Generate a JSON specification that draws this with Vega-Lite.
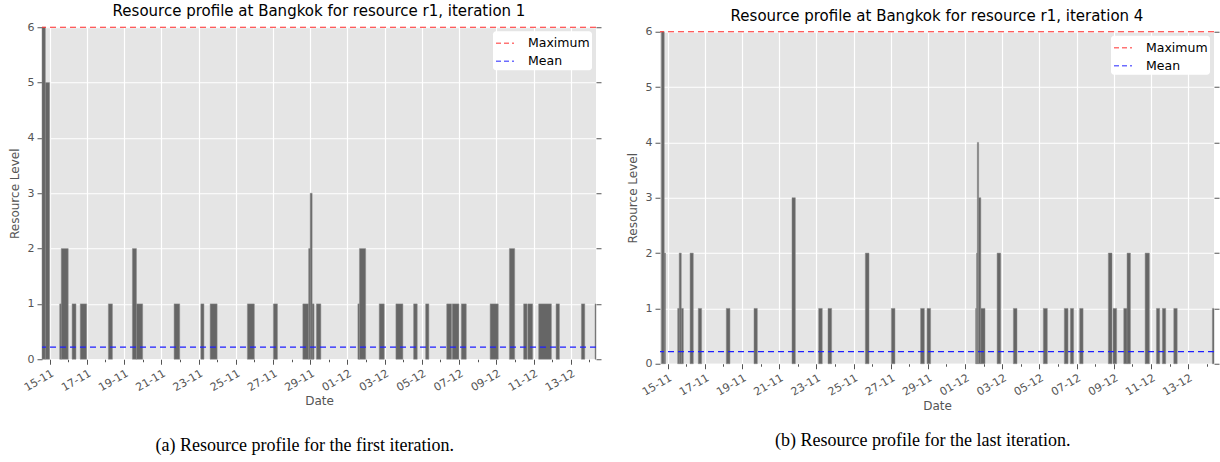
{
  "$schema": "https://vega.github.io/schema/vega-lite/v6.json",
  "background": "white",
  "padding": {"left": 8, "top": 4, "right": 2, "bottom": 2},
  "config": {
    "font": "DejaVu Sans",
    "view": {"fill": "#E5E5E5", "stroke": null},
    "axis": {
      "domain": false,
      "gridColor": "white",
      "gridWidth": 1.2,
      "tickColor": "#555555",
      "labelColor": "#555555",
      "titleColor": "#555555",
      "labelFont": "DejaVu Sans",
      "titleFont": "DejaVu Sans",
      "labelFontSize": 11,
      "titleFontSize": 12,
      "titleFontWeight": "normal",
      "tickSize": 5
    },
    "title": {"font": "DejaVu Sans", "fontSize": 15, "fontWeight": "normal", "color": "black"},
    "legend": {
      "orient": "top-right",
      "offset": 4,
      "fillColor": "white",
      "cornerRadius": 3,
      "padding": 2,
      "symbolType": "stroke",
      "symbolDash": [5, 3],
      "symbolStrokeWidth": 1.3,
      "symbolSize": 324,
      "symbolOpacity": 0.65,
      "labelFontSize": 12.5,
      "labelColor": "black",
      "labelFont": "DejaVu Sans",
      "labelOffset": 13,
      "rowPadding": 1
    },
    "concat": {"spacing": 24}
  },
  "datasets": {
    "iter1": [
      {"start": "2016-11-14T14:12", "end": "2016-11-14T18:30", "level": 6},
      {"start": "2016-11-14T18:30", "end": "2016-11-15T00:00", "level": 5},
      {"start": "2016-11-15T13:00", "end": "2016-11-15T15:00", "level": 1},
      {"start": "2016-11-15T15:00", "end": "2016-11-16T00:00", "level": 2},
      {"start": "2016-11-16T05:00", "end": "2016-11-16T10:00", "level": 1},
      {"start": "2016-11-16T15:30", "end": "2016-11-16T23:45", "level": 1},
      {"start": "2016-11-18T03:45", "end": "2016-11-18T09:00", "level": 1},
      {"start": "2016-11-19T10:45", "end": "2016-11-19T16:00", "level": 2},
      {"start": "2016-11-19T16:00", "end": "2016-11-20T00:00", "level": 1},
      {"start": "2016-11-21T16:30", "end": "2016-11-21T23:45", "level": 1},
      {"start": "2016-11-23T03:00", "end": "2016-11-23T07:00", "level": 1},
      {"start": "2016-11-23T15:00", "end": "2016-11-24T00:00", "level": 1},
      {"start": "2016-11-25T15:00", "end": "2016-11-26T00:00", "level": 1},
      {"start": "2016-11-27T00:30", "end": "2016-11-27T05:45", "level": 1},
      {"start": "2016-11-28T14:30", "end": "2016-11-28T22:00", "level": 1},
      {"start": "2016-11-28T22:00", "end": "2016-11-29T00:00", "level": 2},
      {"start": "2016-11-29T00:00", "end": "2016-11-29T02:30", "level": 3},
      {"start": "2016-11-29T02:30", "end": "2016-11-29T05:00", "level": 1},
      {"start": "2016-11-29T08:00", "end": "2016-11-29T13:45", "level": 1},
      {"start": "2016-12-01T13:30", "end": "2016-12-01T15:30", "level": 1},
      {"start": "2016-12-01T15:30", "end": "2016-12-01T23:30", "level": 2},
      {"start": "2016-12-02T17:00", "end": "2016-12-02T23:30", "level": 1},
      {"start": "2016-12-03T14:30", "end": "2016-12-03T23:30", "level": 1},
      {"start": "2016-12-04T13:20", "end": "2016-12-04T18:00", "level": 1},
      {"start": "2016-12-05T04:50", "end": "2016-12-05T09:00", "level": 1},
      {"start": "2016-12-06T08:00", "end": "2016-12-06T14:20", "level": 1},
      {"start": "2016-12-06T15:10", "end": "2016-12-06T23:45", "level": 1},
      {"start": "2016-12-07T02:50", "end": "2016-12-07T09:15", "level": 1},
      {"start": "2016-12-08T16:00", "end": "2016-12-09T02:30", "level": 1},
      {"start": "2016-12-09T16:50", "end": "2016-12-09T23:40", "level": 2},
      {"start": "2016-12-10T11:10", "end": "2016-12-10T15:30", "level": 1},
      {"start": "2016-12-10T16:25", "end": "2016-12-10T22:50", "level": 1},
      {"start": "2016-12-11T06:35", "end": "2016-12-11T23:00", "level": 1},
      {"start": "2016-12-12T05:00", "end": "2016-12-12T09:20", "level": 1},
      {"start": "2016-12-13T13:40", "end": "2016-12-13T18:00", "level": 1},
      {"start": "2016-12-14T07:15", "end": "2016-12-14T08:30", "level": 1}
    ],
    "iter4": [
      {"start": "2016-11-14T16:00", "end": "2016-11-14T19:40", "level": 6},
      {"start": "2016-11-14T19:40", "end": "2016-11-14T21:20", "level": 2},
      {"start": "2016-11-15T13:00", "end": "2016-11-15T15:00", "level": 1},
      {"start": "2016-11-15T15:00", "end": "2016-11-15T17:40", "level": 2},
      {"start": "2016-11-15T17:40", "end": "2016-11-15T20:20", "level": 1},
      {"start": "2016-11-16T05:00", "end": "2016-11-16T09:10", "level": 2},
      {"start": "2016-11-16T15:35", "end": "2016-11-16T19:55", "level": 1},
      {"start": "2016-11-18T03:45", "end": "2016-11-18T08:30", "level": 1},
      {"start": "2016-11-19T15:30", "end": "2016-11-19T19:50", "level": 1},
      {"start": "2016-11-21T16:35", "end": "2016-11-21T20:55", "level": 3},
      {"start": "2016-11-23T03:00", "end": "2016-11-23T07:40", "level": 1},
      {"start": "2016-11-23T15:05", "end": "2016-11-23T19:45", "level": 1},
      {"start": "2016-11-25T15:15", "end": "2016-11-25T20:00", "level": 2},
      {"start": "2016-11-27T00:50", "end": "2016-11-27T05:30", "level": 1},
      {"start": "2016-11-28T14:35", "end": "2016-11-28T19:25", "level": 1},
      {"start": "2016-11-28T22:55", "end": "2016-11-29T03:30", "level": 1},
      {"start": "2016-12-01T13:35", "end": "2016-12-01T14:55", "level": 1},
      {"start": "2016-12-01T14:55", "end": "2016-12-01T15:50", "level": 2},
      {"start": "2016-12-01T15:50", "end": "2016-12-01T17:30", "level": 4},
      {"start": "2016-12-01T17:30", "end": "2016-12-01T20:20", "level": 3},
      {"start": "2016-12-01T20:20", "end": "2016-12-02T01:45", "level": 1},
      {"start": "2016-12-02T17:20", "end": "2016-12-02T22:00", "level": 2},
      {"start": "2016-12-03T14:20", "end": "2016-12-03T19:00", "level": 1},
      {"start": "2016-12-05T05:00", "end": "2016-12-05T10:10", "level": 1},
      {"start": "2016-12-06T08:05", "end": "2016-12-06T12:55", "level": 1},
      {"start": "2016-12-06T15:55", "end": "2016-12-06T20:05", "level": 1},
      {"start": "2016-12-07T03:55", "end": "2016-12-07T08:20", "level": 1},
      {"start": "2016-12-08T16:55", "end": "2016-12-08T21:40", "level": 2},
      {"start": "2016-12-08T23:00", "end": "2016-12-09T03:40", "level": 1},
      {"start": "2016-12-09T12:50", "end": "2016-12-09T17:05", "level": 1},
      {"start": "2016-12-09T17:05", "end": "2016-12-09T21:30", "level": 2},
      {"start": "2016-12-10T16:25", "end": "2016-12-10T21:55", "level": 2},
      {"start": "2016-12-11T07:00", "end": "2016-12-11T11:15", "level": 1},
      {"start": "2016-12-11T14:40", "end": "2016-12-11T19:00", "level": 1},
      {"start": "2016-12-12T05:25", "end": "2016-12-12T09:50", "level": 1},
      {"start": "2016-12-14T07:15", "end": "2016-12-14T09:20", "level": 1}
    ],
    "limits1": [
      {"series": "Maximum", "value": 6},
      {"series": "Mean", "value": 0.22}
    ],
    "limits4": [
      {"series": "Maximum", "value": 6},
      {"series": "Mean", "value": 0.22}
    ]
  },
  "center": true,
  "resolve": {"scale": {"stroke": "independent"}, "legend": {"stroke": "independent"}},
  "hconcat": [
    {
      "title": {"text": "(a) Resource profile for the first iteration.", "orient": "bottom", "font": "Liberation Serif", "fontSize": 18, "anchor": "middle", "frame": "bounds", "offset": 30},
      "resolve": {"scale": {"stroke": "independent"}, "legend": {"stroke": "independent"}},
      "vconcat": [
        {
          "width": 554,
          "height": 332,
          "title": {"text": "Resource profile at Bangkok for resource r1, iteration 1", "offset": 2},
          "resolve": {"axis": {"y": "independent"}},
          "layer": [
            {
              "data": {"name": "iter1"},
              "mark": {"type": "rect", "fill": "#666666", "stroke": "#8a8a8a", "strokeWidth": 0.5},
              "encoding": {
                "x": {
                  "field": "start", "type": "temporal", "title": "Date",
                  "scale": {"domain": [{"year": 2016, "month": 11, "date": 14, "hours": 14, "minutes": 12}, {"year": 2016, "month": 12, "date": 14, "hours": 8, "minutes": 30}]},
                  "axis": {
                    "tickCount": {"interval": "day", "step": 1},
                    "labelExpr": "date(datum.value) % 2 === 1 ? timeFormat(datum.value, '%d-%m') : ''",
                    "labelAngle": -30, "labelAlign": "right", "labelBaseline": "top",
                    "labelOverlap": false, "labelFlush": false, "labelPadding": 3,
                    "gridOpacity": {"condition": {"test": "date(datum.value) % 2 === 1", "value": 1}, "value": 0},
                    "tickSize": {"condition": {"test": "date(datum.value) % 2 === 1", "value": 5}, "value": 2.5},
                    "titlePadding": 3
                  }
                },
                "x2": {"field": "end"},
                "y": {
                  "field": "level", "type": "quantitative", "title": "Resource Level",
                  "scale": {"domain": [0, 6], "nice": false},
                  "axis": {"values": [0, 1, 2, 3, 4, 5, 6], "format": "d", "labelPadding": 3, "titlePadding": 6}
                },
                "y2": {"datum": 0}
              }
            },
            {
              "data": {"name": "limits1"},
              "mark": {"type": "rule", "strokeDash": [6, 4], "strokeWidth": 1.2},
              "encoding": {
                "y": {
                  "field": "value", "type": "quantitative",
                  "scale": {"domain": [0, 6], "nice": false},
                  "axis": {"orient": "right", "values": [0, 1, 2, 3, 4, 5, 6], "labels": false, "grid": false, "title": null}
                },
                "stroke": {
                  "field": "series", "type": "nominal",
                  "scale": {"domain": ["Maximum", "Mean"], "range": ["#ff2a2a", "#1f1fff"]},
                  "legend": {"title": null}
                }
              }
            }
          ]
        }
      ]
    },
    {
      "title": {"text": "(b) Resource profile for the last iteration.", "orient": "bottom", "font": "Liberation Serif", "fontSize": 18, "anchor": "middle", "frame": "bounds", "offset": 21},
      "resolve": {"scale": {"stroke": "independent"}, "legend": {"stroke": "independent"}},
      "vconcat": [
        {
          "width": 554,
          "height": 332,
          "title": {"text": "Resource profile at Bangkok for resource r1, iteration 4", "offset": 2},
          "resolve": {"axis": {"y": "independent"}},
          "layer": [
            {
              "data": {"name": "iter4"},
              "mark": {"type": "rect", "fill": "#666666", "stroke": "#8a8a8a", "strokeWidth": 0.5},
              "encoding": {
                "x": {
                  "field": "start", "type": "temporal", "title": "Date",
                  "scale": {"domain": [{"year": 2016, "month": 11, "date": 14, "hours": 14, "minutes": 12}, {"year": 2016, "month": 12, "date": 14, "hours": 9, "minutes": 20}]},
                  "axis": {
                    "tickCount": {"interval": "day", "step": 1},
                    "labelExpr": "date(datum.value) % 2 === 1 ? timeFormat(datum.value, '%d-%m') : ''",
                    "labelAngle": -30, "labelAlign": "right", "labelBaseline": "top",
                    "labelOverlap": false, "labelFlush": false, "labelPadding": 3,
                    "gridOpacity": {"condition": {"test": "date(datum.value) % 2 === 1", "value": 1}, "value": 0},
                    "tickSize": {"condition": {"test": "date(datum.value) % 2 === 1", "value": 5}, "value": 2.5},
                    "titlePadding": 3
                  }
                },
                "x2": {"field": "end"},
                "y": {
                  "field": "level", "type": "quantitative", "title": "Resource Level",
                  "scale": {"domain": [0, 6], "nice": false},
                  "axis": {"values": [0, 1, 2, 3, 4, 5, 6], "format": "d", "labelPadding": 3, "titlePadding": 6}
                },
                "y2": {"datum": 0}
              }
            },
            {
              "data": {"name": "limits4"},
              "mark": {"type": "rule", "strokeDash": [6, 4], "strokeWidth": 1.2},
              "encoding": {
                "y": {
                  "field": "value", "type": "quantitative",
                  "scale": {"domain": [0, 6], "nice": false},
                  "axis": {"orient": "right", "values": [0, 1, 2, 3, 4, 5, 6], "labels": false, "grid": false, "title": null}
                },
                "stroke": {
                  "field": "series", "type": "nominal",
                  "scale": {"domain": ["Maximum", "Mean"], "range": ["#ff2a2a", "#1f1fff"]},
                  "legend": {"title": null}
                }
              }
            }
          ]
        }
      ]
    }
  ]
}
